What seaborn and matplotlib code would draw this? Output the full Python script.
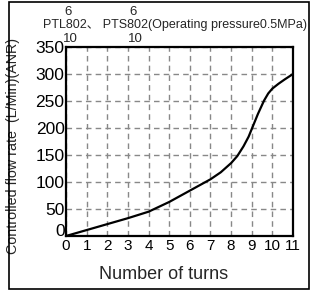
import numpy as np
import pandas as pd
import seaborn as sns
import matplotlib
matplotlib.use("Agg")
import matplotlib.pyplot as plt
from matplotlib.patches import Rectangle

# values
turns = [0, 1, 2, 3, 4, 5, 6, 7, 7.5, 8, 8.3, 8.6, 8.85, 9, 9.3, 9.6, 9.8, 10, 10.3, 10.6, 11]
flow = [0, 11, 22, 33, 45, 63, 84, 105, 118, 135, 148, 166, 184, 198, 226, 251, 264, 273, 282, 290, 300]
x_ticks = list(range(0, 12))
y_ticks = list(range(0, 351, 50))

df = pd.DataFrame({"turns": turns, "flow": flow})

sns.set_style("white")
plt.rcParams["font.family"] = ["Liberation Sans", "Noto Sans CJK JP", "DejaVu Sans"]

fig = plt.figure(figsize=(3.11, 2.91), dpi=100)
ax = fig.add_axes([66 / 311, 55 / 291, 227 / 311, 189 / 291])

sns.lineplot(data=df, x="turns", y="flow", ax=ax, color="black", linewidth=1.6)

ax.set_xlim(0, 11)
ax.set_ylim(0, 350)
ax.set_xticks(x_ticks)
ax.set_yticks(y_ticks)
ax.tick_params(length=0, colors="black")
ax.tick_params(axis="x", labelsize=11, pad=2)
ax.tick_params(axis="y", labelsize=12.5, pad=1)
ax.get_yticklabels()[0].set_va("baseline")
ax.grid(True, color="#888888", linestyle=(0, (4, 3)), linewidth=1)
for s in ax.spines.values():
    s.set_color("black")
    s.set_linewidth(1.6)

ax.set_xlabel("Number of turns", fontsize=13)
ax.xaxis.set_label_coords((164 - 66) / 227, -(266 - 236) / 189)
ax.set_ylabel("Controlled flow rate  (L/Min)(ANR)", fontsize=10.3)
ax.yaxis.set_label_coords((20 - 66) / 227, (236 - 146) / 189)

# title with the small 6 / 10 marks around the 8
fig.text(43 / 311, 1 - 25 / 291, "PTL802、 PTS802(Operating pressure0.5MPa)",
         fontsize=9, va="center", ha="left")
for xp in (68, 133):
    fig.text(xp / 311, 1 - 12 / 291, "6", fontsize=9.5, va="center", ha="center")
    fig.text((xp + 2) / 311, 1 - 39 / 291, "10", fontsize=9.5, va="center", ha="center")

fig.patches.append(Rectangle((9 / 311, 2 / 291), 300 / 311, 287 / 291,
                             transform=fig.transFigure, fill=False,
                             edgecolor="black", linewidth=1.2))

fig.savefig("out.png", dpi=100)
